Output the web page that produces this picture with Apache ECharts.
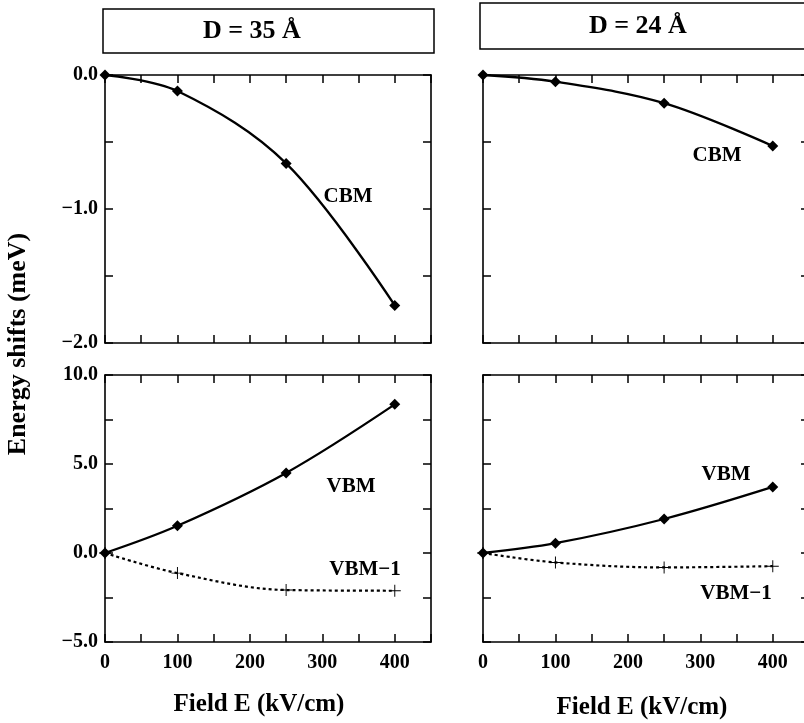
<!DOCTYPE html>
<html>
<head>
<meta charset="utf-8">
<script src="https://cdn.jsdelivr.net/npm/echarts@6/dist/echarts.min.js"></script>
<style>html,body{margin:0;padding:0;background:#fff;overflow:hidden}#c{width:840px;height:723px}</style>
</head>
<body>
<div id="c"></div>
<script>
// ---- data ----
const fieldE = [0, 100, 250, 400];            // kV/cm
const cbm35 = [0, -0.12, -0.66, -1.72];        // meV, D = 35 Å
const vbm35 = [0, 1.53, 4.5, 8.35];
const vbm1_35 = [0, -1.13, -2.08, -2.12];
const cbm24 = [0, -0.05, -0.21, -0.53];        // meV, D = 24 Å
const vbm24 = [0, 0.55, 1.91, 3.71];
const vbm1_24 = [0, -0.53, -0.81, -0.74];
const xTickLabels = [0, 100, 200, 300, 400];
const yTickLabelsTop = [0, -1, -2];
const yTickLabelsBottom = [10, 5, 0, -5];
const panelTitles = ['D = 35 Å', 'D = 24 Å'];

const FONT = "'Liberation Serif','Times New Roman',serif";
const chart = echarts.init(document.getElementById('c'));

function fmtY(v) { return (v < 0 ? '\u2212' : '') + Math.abs(v).toFixed(1); }

const grids = [
  {left: 105, top: 75, width: 326, height: 268},
  {left: 105, top: 375, width: 326, height: 267},
  {left: 483, top: 75, width: 326, height: 268},
  {left: 483, top: 375, width: 326, height: 267}
];
const lineCol = '#000';
function xAx(g, pos, labels) {
  return {
    type: 'value', gridIndex: g, position: pos, min: 0, max: 450, interval: 50,
    axisLine: {show: true, onZero: false, lineStyle: {color: lineCol, width: 1.6}},
    axisTick: {show: true, inside: true, length: 8, lineStyle: {color: lineCol, width: 1.5}},
    axisLabel: {show: labels, margin: 11, color: '#000', fontFamily: FONT, fontWeight: 'bold', fontSize: 20,
      formatter: v => xTickLabels.indexOf(v) >= 0 ? String(v) : ''},
    splitLine: {show: false}
  };
}
function yAx(g, pos, top, labels) {
  const ticks = top ? yTickLabelsTop : yTickLabelsBottom;
  return {
    type: 'value', gridIndex: g, position: pos,
    min: top ? -2 : -5, max: top ? 0 : 10, interval: top ? 0.5 : 2.5,
    axisLine: {show: true, onZero: false, lineStyle: {color: lineCol, width: 1.6}},
    axisTick: {show: true, inside: true, length: 8, lineStyle: {color: lineCol, width: 1.5}},
    axisLabel: {show: labels, margin: 7, color: '#000', fontFamily: FONT, fontWeight: 'bold', fontSize: 20,
      formatter: v => ticks.some(t => Math.abs(t - v) < 1e-9) ? fmtY(v) : ''},
    splitLine: {show: false}
  };
}
const xAxes = [], yAxes = [];
[0,1,2,3].forEach(g => {
  const isBottom = (g % 2) === 1, isLeft = g < 2, isTop = !isBottom;
  xAxes.push(xAx(g, 'bottom', isBottom));
  xAxes.push(xAx(g, 'top', false));
  yAxes.push(yAx(g, 'left', isTop, isLeft));
  yAxes.push(yAx(g, 'right', isTop, false));
});

const plusPath = 'path://M-0.08,-1 L0.08,-1 L0.08,-0.08 L1,-0.08 L1,0.08 L0.08,0.08 L0.08,1 L-0.08,1 L-0.08,0.08 L-1,0.08 L-1,-0.08 L-0.08,-0.08 Z';
function solid(g, arr) {
  return {type: 'line', xAxisIndex: 2*g, yAxisIndex: 2*g, data: fieldE.map((x,i)=>[x, arr[i]]),
    smooth: 0.35, clip: false, symbol: 'diamond', symbolSize: 11,
    lineStyle: {color: '#000', width: 2.3}, itemStyle: {color: '#000'}, z: 5};
}
function dotted(g, arr) {
  return {type: 'line', xAxisIndex: 2*g, yAxisIndex: 2*g, data: fieldE.map((x,i)=>[x, arr[i]]),
    smooth: 0.35, clip: false, symbol: plusPath, symbolSize: 12,
    lineStyle: {color: '#000', width: 2.2, type: [3, 3]}, itemStyle: {color: '#000'}, z: 4};
}
const series = [
  solid(0, cbm35), solid(1, vbm35), dotted(1, vbm1_35),
  solid(2, cbm24), solid(3, vbm24), dotted(3, vbm1_24)
];

function txt(x, y, s, size, align, rot) {
  return {type: 'text', x: x, y: y, rotation: rot || 0, z: 10,
    style: {text: s, fill: '#000', font: 'bold ' + size + 'px ' + FONT, textAlign: align || 'center', textVerticalAlign: 'middle'}};
}
const graphic = [
  {type: 'rect', shape: {x: 103, y: 9, width: 331, height: 44}, style: {fill: 'none', stroke: '#000', lineWidth: 1.5}},
  {type: 'rect', shape: {x: 480, y: 3, width: 380, height: 46}, style: {fill: 'none', stroke: '#000', lineWidth: 1.5}},
  txt(203, 31, panelTitles[0], 26, 'left'),
  txt(589, 26, panelTitles[1], 26, 'left'),
  txt(18, 344, 'Energy shifts (meV)', 26, 'center', Math.PI / 2),
  txt(259, 705, 'Field E (kV/cm)', 25, 'center'),
  txt(642, 708, 'Field E (kV/cm)', 25, 'center'),
  txt(348, 197, 'CBM', 21),
  txt(717, 156, 'CBM', 21),
  txt(351, 487, 'VBM', 21),
  txt(365, 570, 'VBM\u22121', 21),
  txt(726, 475, 'VBM', 21),
  txt(736, 594, 'VBM\u22121', 21)
];

chart.setOption({
  animation: false,
  backgroundColor: '#fff',
  grid: grids.map(g => Object.assign({show: false, containLabel: false}, g)),
  xAxis: xAxes, yAxis: yAxes, series: series, graphic: graphic
});
</script>
</body>
</html>
